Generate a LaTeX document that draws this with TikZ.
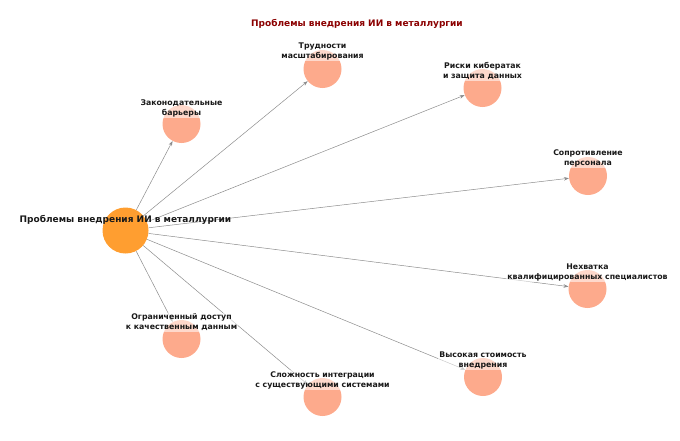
\documentclass[tikz,border=0pt]{standalone}
\usepackage{fontspec}
\setmainfont{DejaVu Sans}
\usetikzlibrary{arrows.meta}
\definecolor{hubcol}{RGB}{255,158,48}
\definecolor{leafcol}{RGB}{253,170,140}
\definecolor{titlecol}{RGB}{139,0,0}
\definecolor{edgecol}{RGB}{140,140,140}
\tikzset{
  hub/.style={circle, fill=hubcol, draw=none, minimum size=46pt, inner sep=0pt},
  leaf/.style={circle, fill=leafcol, draw=none, minimum size=38pt, inner sep=0pt},
  edge/.style={draw=edgecol, line width=0.5pt, -{Stealth[length=5pt,width=3.5pt]}},
  lbl/.style={align=center, font=\fontsize{7.8}{10}\selectfont\bfseries, text=black!90, fill=white, fill opacity=0.55, text opacity=1, inner sep=1pt},
  hublbl/.style={align=center, font=\fontsize{9}{11}\selectfont\bfseries, text=black!90, inner sep=1pt},
}
\begin{document}
\begin{tikzpicture}[x=1pt,y=-1pt]
\useasboundingbox (0,0) rectangle (680,440);
\node[font=\fontsize{9}{11}\selectfont\bfseries, text=titlecol] (title) at (357,24) {Проблемы внедрения ИИ в металлургии};

\node[hub] (c) at (125.5,230.5) {};
\node[leaf] (n1) at (322.5,69) {};
\node[leaf] (n2) at (482.5,88) {};
\node[leaf] (n3) at (181.5,124) {};
\node[leaf] (n4) at (588,176) {};
\node[leaf] (n5) at (587.5,289) {};
\node[leaf] (n6) at (181.5,339) {};
\node[leaf] (n7) at (322.5,397) {};
\node[leaf] (n8) at (483,377) {};

\foreach \n in {n1,n2,n3,n4,n5,n6,n7,n8}
  \draw[edge] (c) -- (\n);

\node[hublbl] (lc) at (125.5,220) {Проблемы внедрения ИИ в металлургии};
\node[lbl] (l1) at (322.5,51) {Трудности\\масштабирования};
\node[lbl] (l2) at (482.5,71) {Риски кибератак\\и защита данных};
\node[lbl] (l3) at (181.5,108.5) {Законодательные\\барьеры};
\node[lbl] (l4) at (588,158.5) {Сопротивление\\персонала};
\node[lbl] (l5) at (587.5,272) {Нехватка\\квалифицированных специалистов};
\node[lbl] (l6) at (181.5,322.5) {Ограниченный доступ\\к качественным данным};
\node[lbl] (l7) at (322.5,380) {Сложность интеграции\\с существующими системами};
\node[lbl] (l8) at (483,360) {Высокая стоимость\\внедрения};
\end{tikzpicture}
\end{document}
